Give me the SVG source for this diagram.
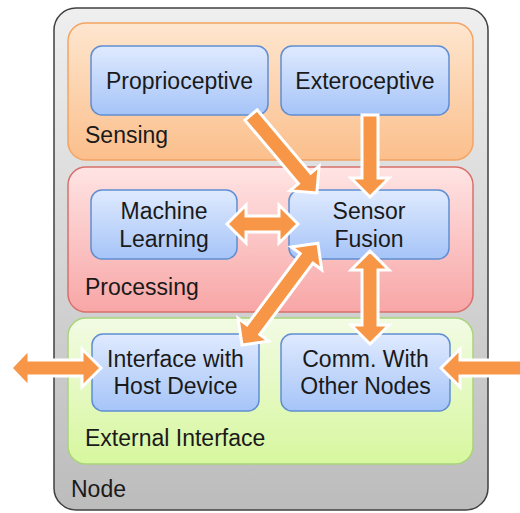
<svg xmlns="http://www.w3.org/2000/svg" width="520" height="513" viewBox="0 0 520 513">
<defs>
<linearGradient id="gNode" x1="0" y1="0" x2="0" y2="1"><stop offset="0" stop-color="#efefef"/><stop offset="1" stop-color="#bcbcbc"/></linearGradient>
<linearGradient id="gSens" x1="0" y1="0" x2="0" y2="1"><stop offset="0" stop-color="#fee6cf"/><stop offset="1" stop-color="#fbbf8c"/></linearGradient>
<linearGradient id="gProc" x1="0" y1="0" x2="0" y2="1"><stop offset="0" stop-color="#ffe4e4"/><stop offset="1" stop-color="#f8a6a6"/></linearGradient>
<linearGradient id="gExt" x1="0" y1="0" x2="0" y2="1"><stop offset="0" stop-color="#f2fbe4"/><stop offset="1" stop-color="#d7f79e"/></linearGradient>
<linearGradient id="gBlue" x1="0" y1="0" x2="0" y2="1"><stop offset="0" stop-color="#dfeafe"/><stop offset="1" stop-color="#a6c4f8"/></linearGradient>
</defs>
<style>
text{font-family:"Liberation Sans",Arial,sans-serif;font-size:23px;fill:#1a1a1a}
.c{text-anchor:middle}
.blue{fill:url(#gBlue);stroke:#5f8ed2;stroke-width:1.5}
.arr{fill:#f79646;stroke:#ffffff;stroke-width:3;stroke-linejoin:miter}
</style>
<g id="node">
<rect x="54" y="8" width="434" height="502" rx="22" fill="url(#gNode)" stroke="#404040" stroke-width="1.5"/>
<text x="71" y="497">Node</text>
</g>
<g id="sensing">
<rect x="68" y="23" width="405" height="137" rx="18" fill="url(#gSens)" stroke="#f4a463" stroke-width="1.5"/>
<text x="85" y="143">Sensing</text>
</g>
<g id="processing">
<rect x="68" y="167" width="405" height="145" rx="18" fill="url(#gProc)" stroke="#d8706c" stroke-width="1.5"/>
<text x="85" y="295">Processing</text>
</g>
<g id="external">
<rect x="68" y="318" width="405" height="146" rx="18" fill="url(#gExt)" stroke="#a9d47a" stroke-width="1.5"/>
<text x="85" y="446">External Interface</text>
</g>
<g id="proprioceptive">
<rect class="blue" x="91" y="46" width="177" height="69" rx="11"/>
<text class="c" x="179.5" y="89">Proprioceptive</text>
</g>
<g id="exteroceptive">
<rect class="blue" x="281" y="46" width="168" height="69" rx="11"/>
<text class="c" x="365" y="89">Exteroceptive</text>
</g>
<g id="machine-learning">
<rect class="blue" x="91" y="190" width="146" height="69" rx="11"/>
<text class="c" x="164" y="219">Machine</text>
<text class="c" x="164" y="247">Learning</text>
</g>
<g id="sensor-fusion">
<rect class="blue" x="289" y="190" width="160" height="69" rx="11"/>
<text class="c" x="369" y="219">Sensor</text>
<text class="c" x="369" y="247">Fusion</text>
</g>
<g id="host-interface">
<rect class="blue" x="92" y="334" width="167" height="77" rx="11"/>
<text class="c" x="175.5" y="367">Interface with</text>
<text class="c" x="175.5" y="394">Host Device</text>
</g>
<g id="comm-nodes">
<rect class="blue" x="281" y="334" width="169" height="77" rx="11"/>
<text class="c" x="365.5" y="367">Comm. With</text>
<text class="c" x="365.5" y="394">Other Nodes</text>
</g>
<g id="connectors">
<polygon class="arr" transform="translate(251,115) rotate(49.8)" points="0,-8 83,-8 83,-19 102,0 83,19 83,8 0,8"/>
<polygon class="arr" transform="translate(370,115) rotate(90)" points="0,-8 63,-8 63,-19 82,0 63,19 63,8 0,8"/>
<polygon class="arr" transform="translate(227,224)" points="0,0 19,-19 19,-8 52,-8 52,-19 71,0 52,19 52,8 19,8 19,19"/>
<polygon class="arr" transform="translate(242,345) rotate(-53.3)" points="0,0 19,-19 19,-8 108,-8 108,-19 127,0 108,19 108,8 19,8 19,19"/>
<polygon class="arr" transform="translate(370,251) rotate(90)" points="0,0 19,-19 19,-8 74,-8 74,-19 93,0 74,19 74,8 19,8 19,19"/>
<polygon class="arr" transform="translate(11,368)" points="0,0 18,-19 18,-8 71,-8 71,-19 90,0 71,19 71,8 18,8 18,19"/>
<polygon class="arr" points="441,368 460,349 460,360 530,360 530,376 460,376 460,387"/>
</g>
</svg>
